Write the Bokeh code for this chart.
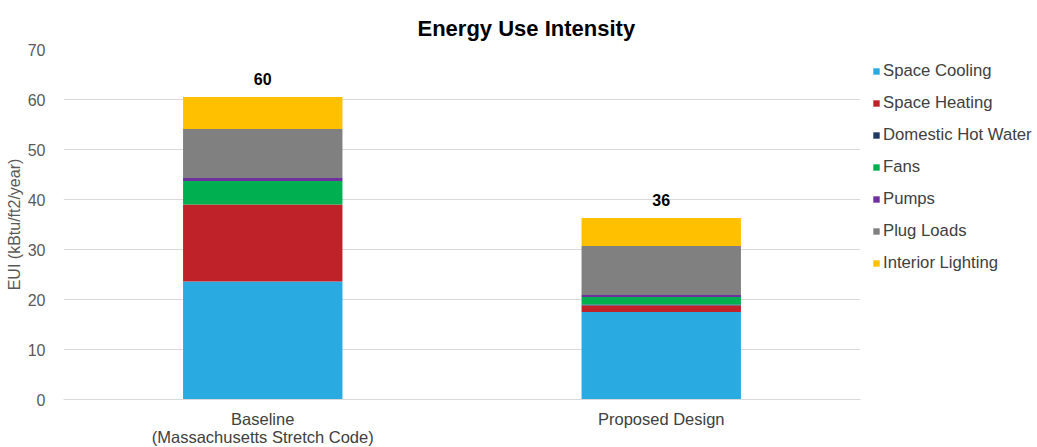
from bokeh.plotting import figure
from bokeh.models import ColumnDataSource, Range1d, FactorRange, Legend, LegendItem
from bokeh.embed import file_html
from bokeh.resources import INLINE
from bokeh.core.properties import value

categories = ["Baseline\n(Massachusetts Stretch Code)", "Proposed Design"]
space_cooling = [23.6, 17.5]
space_heating = [15.4, 1.3]
domestic_hot_water = [0.0, 0.2]
fans = [4.7, 1.5]
pumps = [0.6, 0.4]
plug_loads = [9.8, 9.8]
interior_lighting = [6.4, 5.6]
total_labels = ["60", "36"]

series = ["Space Cooling", "Space Heating", "Domestic Hot Water", "Fans", "Pumps", "Plug Loads", "Interior Lighting"]
colors = ["#29ABE2", "#C0222A", "#1F3864", "#00B050", "#7030A0", "#808080", "#FFC000"]

data = {"cat": categories}
for name, vals in zip(series, [space_cooling, space_heating, domestic_hot_water, fans, pumps, plug_loads, interior_lighting]):
    data[name] = vals
data["total"] = [sum(v) for v in zip(space_cooling, space_heating, domestic_hot_water, fans, pumps, plug_loads, interior_lighting)]
data["label"] = total_labels
src = ColumnDataSource(data)

FONT = "Liberation Sans"

p = figure(frame_width=797, frame_height=350, x_range=FactorRange(*categories), y_range=Range1d(0, 70),
           output_backend="svg", toolbar_location=None, title="Energy Use Intensity",
           min_border_left=63, min_border_right=0, min_border_top=49, min_border_bottom=48)
p.outline_line_color = None
p.background_fill_color = "white"
p.border_fill_color = "white"

renderers = p.vbar_stack(series, x="cat", width=0.4, color=colors, source=src, line_color=None)

p.text(x="cat", y="total", text="label", source=src, text_align="center", text_baseline="bottom",
       y_offset=-12, text_font=value(FONT), text_font_size="16px", text_font_style="bold", text_color="#000000")

p.title.align = "left"
p.title.offset = 354
p.title.standoff = 18
p.title.text_font = FONT
p.title.text_font_size = "22px"
p.title.text_font_style = "bold"
p.title.text_color = "#000000"

p.yaxis.ticker = [0, 10, 20, 30, 40, 50, 60, 70]
p.yaxis.axis_line_color = None
p.yaxis.major_tick_line_color = None
p.yaxis.minor_tick_line_color = None
p.yaxis.major_label_text_font = FONT
p.yaxis.major_label_text_font_size = "16px"
p.yaxis.major_label_text_color = "#595959"
p.yaxis.major_label_standoff = 12
p.yaxis.axis_label = "EUI (kBtu/ft2/year)"
p.yaxis.axis_label_text_font = FONT
p.yaxis.axis_label_text_font_size = "16px"
p.yaxis.axis_label_text_font_style = "normal"
p.yaxis.axis_label_text_color = "#595959"
p.yaxis.axis_label_standoff = 2

p.xaxis.axis_line_color = "#D9D9D9"
p.xaxis.major_tick_line_color = None
p.xaxis.minor_tick_line_color = None
p.xaxis.major_label_text_font = FONT
p.xaxis.major_label_text_font_size = "16.5px"
p.xaxis.major_label_text_line_height = 1.0
p.xaxis.major_label_text_color = "#404040"
p.xaxis.major_label_standoff = 4

p.xgrid.grid_line_color = None
p.ygrid.grid_line_color = "#D9D9D9"

items = [LegendItem(label=s, renderers=[r]) for s, r in zip(series, renderers)]
legend = Legend(items=items, location="top_left", border_line_color=None, background_fill_alpha=0,
                label_text_font=FONT, label_text_font_size="16.7px", label_text_color="#404040",
                glyph_width=8, glyph_height=8, label_height=20, spacing=12, padding=0,
                margin=12, label_standoff=3)
p.add_layout(legend, "right")

open("out.html", "w").write(file_html(p, INLINE))
